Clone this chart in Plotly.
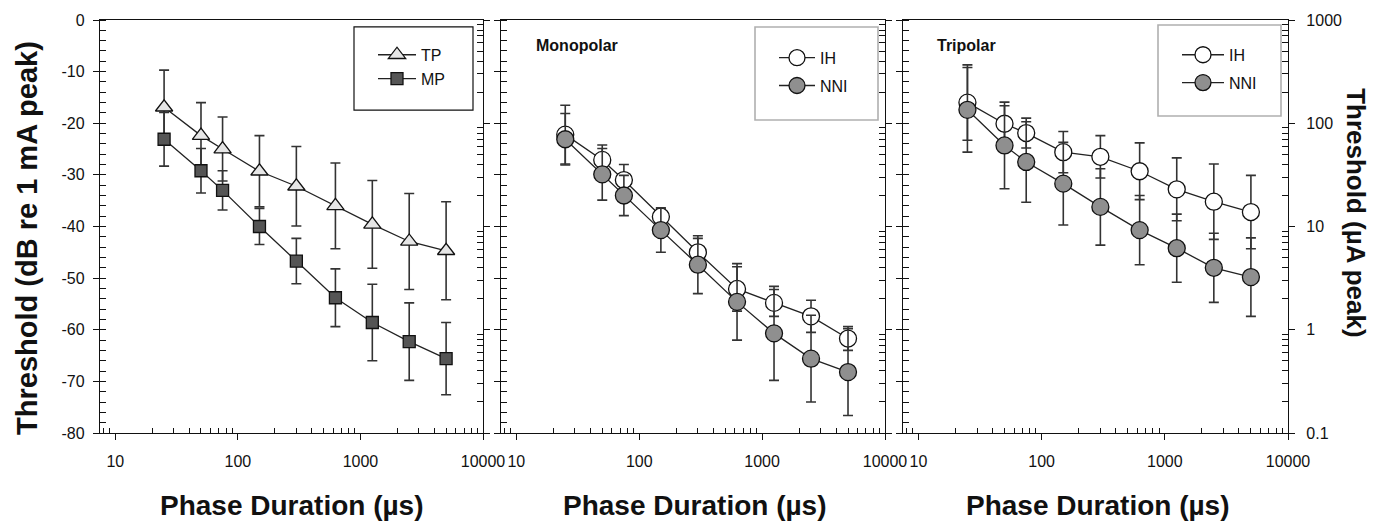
import plotly.graph_objects as go

# ---------------- data ----------------
phase_us = [25, 50, 75, 150, 300, 625, 1250, 2500, 5000]

tp_db = [-16.9, -22.4, -25.0, -29.3, -32.2, -36.0, -39.6, -42.9, -44.7]
tp_err = [7.2, 6.4, 6.2, 6.9, 7.7, 8.3, 8.5, 9.3, 9.5]
mp_db = [-23.1, -29.2, -33.0, -40.0, -46.7, -53.8, -58.6, -62.3, -65.6]
mp_err = [5.2, 4.3, 3.8, 3.5, 4.4, 5.6, 7.4, 7.5, 7.0]

mono_ih_db = [-22.2, -27.1, -31.0, -38.1, -45.0, -52.1, -54.8, -57.4, -61.7]
mono_ih_err = [5.7, 2.9, 3.0, 1.6, 2.7, 4.3, 2.6, 3.1, 2.3]
mono_nni_db = [-23.1, -29.9, -34.0, -40.7, -47.4, -54.6, -60.7, -65.6, -68.2]
mono_nni_err = [5.0, 5.0, 3.9, 4.3, 5.6, 7.4, 9.1, 8.4, 8.4]

tri_ih_db = [-16.0, -20.1, -21.9, -25.6, -26.5, -29.3, -32.8, -35.2, -37.2]
tri_ih_err = [7.3, 3.5, 2.9, 4.0, 4.1, 5.5, 6.1, 7.3, 7.1]
tri_nni_db = [-17.4, -24.3, -27.5, -31.7, -36.2, -40.7, -44.2, -48.0, -49.8]
tri_nni_err = [8.2, 8.4, 7.8, 8.0, 7.4, 6.7, 6.6, 6.7, 7.6]

x_tickvals = [10, 100, 1000, 10000]
x_ticktext = ["10", "100", "1000", "10000"]
db_tickvals = [0, -10, -20, -30, -40, -50, -60, -70, -80]
db_ticktext = ["0", "-10", "-20", "-30", "-40", "-50", "-60", "-70", "-80"]
ua_tickvals = [0.1, 1, 10, 100, 1000]
ua_ticktext = ["0.1", "1", "10", "100", "1000"]

FONT = "Liberation Sans, Arial, sans-serif"
W, H = 1374, 531
L, R, T, B = 100, 86, 16, 98
PW, PH = W - L - R, H - T - B


def fx(px):
    return (px - L) / PW


def fy(py):
    return (H - B - py) / PH


doms = [[fx(100), fx(483)], [fx(501), fx(885)], [fx(903), fx(1288)]]

x_minor = [m * 10 ** d for d in range(0, 4) for m in range(2, 10)]
ua_minor = [m * 10.0 ** d for d in range(-1, 3) for m in range(2, 10)]

fig = go.Figure()

LINE = dict(color="#222222", width=1.3)
EB = dict(color="#333333", thickness=1.6, width=5)


def add(y, err, name, symbol, size, fill, xa, ya, leg):
    fig.add_trace(go.Scatter(
        x=phase_us, y=y, name=name, mode="lines+markers",
        line=LINE,
        marker=dict(symbol=symbol, size=size, color=fill,
                    line=dict(color="#111111", width=1.3)),
        error_y=dict(type="data", array=err, visible=True, **EB),
        xaxis=xa, yaxis=ya, legend=leg, legendgroup=name + leg,
    ))


add(tp_db, tp_err, "TP", "triangle-up", 15, "#e6e6e6", "x", "y", "legend")
add(mp_db, mp_err, "MP", "square", 12, "#555555", "x", "y", "legend")
add(mono_ih_db, mono_ih_err, "IH", "circle", 17, "#ffffff", "x2", "y3", "legend2")
add(mono_nni_db, mono_nni_err, "NNI", "circle", 17, "#8f8f8f", "x2", "y3", "legend2")
add(tri_ih_db, tri_ih_err, "IH", "circle", 17, "#ffffff", "x3", "y5", "legend3")
add(tri_nni_db, tri_nni_err, "NNI", "circle", 17, "#8f8f8f", "x3", "y5", "legend3")

# invisible carriers for right-hand log axes
for xa, ya in [("x", "y2"), ("x2", "y4"), ("x3", "y6")]:
    fig.add_trace(go.Scatter(x=[None], y=[None], xaxis=xa, yaxis=ya,
                             showlegend=False, hoverinfo="skip"))

tickfont = dict(family=FONT, size=16, color="#111111")

layout = dict(
    width=W, height=H,
    margin=dict(l=L, r=R, t=T, b=B, pad=0),
    paper_bgcolor="white", plot_bgcolor="white",
    font=dict(family=FONT, color="#111111"),
)

for i in range(3):
    xs = "" if i == 0 else str(i + 1)
    yl = "" if i == 0 else str(2 * i + 1)
    yr = str(2 * i + 2)
    layout["xaxis" + xs] = dict(
        domain=doms[i], type="log", range=[0.875, 4.0], anchor="y" + yl,
        showline=True, linecolor="#111111", linewidth=1.3, mirror=True,
        showgrid=False, zeroline=False,
        tickmode="array", tickvals=x_tickvals, ticktext=x_ticktext,
        ticks="outside", ticklen=6, tickwidth=1.3, tickcolor="#111111",
        tickfont=tickfont, ticklabelstandoff=8,
        minor=dict(tickmode="array", tickvals=x_minor, ticks="inside",
                   ticklen=5, tickwidth=1.2, tickcolor="#111111", showgrid=False),
    )
    layout["yaxis" + yl] = dict(
        domain=[0, 1], anchor="x" + xs, range=[-80, 0],
        showline=True, linecolor="#111111", linewidth=1.3, mirror=False,
        showgrid=False, zeroline=False,
        tickmode="array", tickvals=db_tickvals, ticktext=db_ticktext,
        ticks="outside", ticklen=6, tickwidth=1.3, tickcolor="#111111",
        showticklabels=(i == 0), tickfont=tickfont, ticklabelstandoff=5,
        minor=dict(tickmode="linear", tick0=0, dtick=2, ticks="inside",
                   ticklen=6, tickwidth=1.2, tickcolor="#111111", showgrid=False),
    )
    layout["yaxis" + yr] = dict(
        type="log", range=[-1, 3], anchor="x" + xs, overlaying="y" + yl,
        side="right",
        showline=True, linecolor="#111111", linewidth=1.3,
        showgrid=False, zeroline=False,
        tickmode="array", tickvals=ua_tickvals, ticktext=ua_ticktext,
        ticks="outside", ticklen=6, tickwidth=1.3, tickcolor="#111111",
        showticklabels=(i == 2), tickfont=tickfont, ticklabelstandoff=8,
        minor=dict(tickmode="array", tickvals=ua_minor, ticks="inside",
                   ticklen=6, tickwidth=1.2, tickcolor="#111111", showgrid=False),
    )

legfont = dict(family=FONT, size=16, color="#111111")
layout["legend"] = dict(x=fx(373), y=fy(34), xanchor="left", yanchor="top",
                        bgcolor="rgba(0,0,0,0)", borderwidth=0, font=legfont,
                        tracegroupgap=0, itemwidth=38)
layout["legend2"] = dict(x=fx(774), y=fy(37), xanchor="left", yanchor="top",
                         bgcolor="rgba(0,0,0,0)", borderwidth=0, font=legfont,
                         tracegroupgap=4, itemwidth=36)
layout["legend3"] = dict(x=fx(1177), y=fy(34), xanchor="left", yanchor="top",
                         bgcolor="rgba(0,0,0,0)", borderwidth=0, font=legfont,
                         tracegroupgap=4, itemwidth=42)

fig.update_layout(**layout)

# legend frames
frames = [((354, 23, 473, 107), "#111111", 1.2),
          ((755, 23, 878, 117), "#b0b0b0", 1.6),
          ((1158, 21, 1281, 113), "#b0b0b0", 1.6)]
for (x0, y0, x1, y1), col, lw in frames:
    fig.add_shape(type="rect", xref="paper", yref="paper",
                  x0=fx(x0), x1=fx(x1), y0=fy(y1), y1=fy(y0),
                  line=dict(color=col, width=lw), fillcolor="rgba(0,0,0,0)",
                  layer="above")

ann = [
    dict(text="<b>Threshold (dB re 1 mA peak)</b>", x=fx(27), y=fy(236),
         textangle=-90, font=dict(family=FONT, size=29, color="#111111")),
    dict(text="<b>Threshold (µA peak)</b>", x=fx(1356), y=fy(211),
         textangle=90, font=dict(family=FONT, size=26, color="#111111")),
    dict(text="<b>Phase Duration (µs)</b>", x=fx(292), y=fy(506),
         font=dict(family=FONT, size=28, color="#111111")),
    dict(text="<b>Phase Duration (µs)</b>", x=fx(695), y=fy(506),
         font=dict(family=FONT, size=28, color="#111111")),
    dict(text="<b>Phase Duration (µs)</b>", x=fx(1098), y=fy(506),
         font=dict(family=FONT, size=28, color="#111111")),
]
for a in ann:
    fig.add_annotation(xref="paper", yref="paper", showarrow=False,
                       xanchor="center", yanchor="middle", **a)

for txt, px in [("Monopolar", 534), ("Tripolar", 935)]:
    fig.add_annotation(xref="paper", yref="paper", showarrow=False,
                       xanchor="left", yanchor="middle", x=fx(px), y=fy(42),
                       text="<b>" + txt + "</b>",
                       font=dict(family=FONT, size=16, color="#111111"))

fig.write_html(
    "out.html",
    config={"displayModeBar": False},
    post_script="document.body.style.margin='0';document.body.style.padding='0';"
                "document.documentElement.style.overflow='hidden';",
)
